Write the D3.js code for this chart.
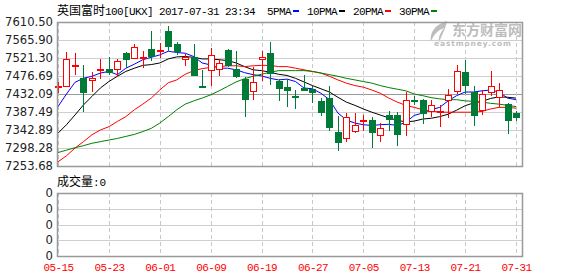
<!DOCTYPE html>
<html>
<head>
<meta charset="utf-8">
<script src="https://cdn.jsdelivr.net/npm/d3@7/dist/d3.min.js"></script>
<style>
body { margin: 0; background: #fff; }
svg { display: block; }
</style>
</head>
<body>
<div class="chartHolder"></div>
<script>
// FTSE 100 daily candles, 2017-05-15 .. 2017-07-31
var dates = ["05-15","05-16","05-17","05-18","05-19","05-22","05-23","05-24","05-25","05-26","05-30","05-31",
    "06-01","06-02","06-05","06-06","06-07","06-08","06-09","06-12","06-13","06-14","06-15","06-16","06-19",
    "06-20","06-21","06-22","06-23","06-26","06-27","06-28","06-29","06-30",
    "07-03","07-04","07-05","07-06","07-07","07-10","07-11","07-12","07-13","07-14","07-17","07-18","07-19",
    "07-20","07-21","07-24","07-25","07-26","07-27","07-28","07-31"];

var openPrice  = [7449,7452,7502,7471,7467,7492,7494,7494,7533,7521,7522,7543,7540,7588,7556,7520,7524,7452,7490,7496,
    7540,7494,7469,7441,7519,7534,7465,7449,7428,7447,7444,7414,7423,7339,7324,7341,7364,7368,7332,7379,
    7379,7357,7417,7417,7390,7388,7418,7438,7486,7437,7393,7437,7425,7407,7386];
var highPrice  = [7461,7537,7533,7504,7486,7518,7523,7520,7535,7556,7538,7587,7558,7600,7562,7531,7556,7492,7546,7519,
    7543,7538,7474,7498,7538,7561,7470,7470,7442,7480,7451,7422,7451,7378,7385,7385,7380,7374,7360,7389,
    7387,7437,7428,7419,7418,7405,7445,7505,7517,7451,7442,7490,7459,7409,7390];
var lowPrice   = [7434,7451,7480,7388,7437,7469,7478,7475,7496,7518,7496,7514,7521,7538,7528,7502,7476,7449,7451,7476,
    7500,7471,7375,7418,7465,7455,7415,7399,7395,7440,7409,7378,7341,7291,7312,7335,7340,7299,7314,7341,
    7302,7329,7404,7357,7374,7351,7372,7432,7432,7354,7379,7426,7401,7332,7364];
var closePrice = [7452,7519,7504,7437,7472,7494,7487,7515,7519,7548,7525,7525,7542,7550,7538,7525,7480,7450,7528,7510,
    7502,7476,7420,7463,7524,7484,7447,7441,7425,7443,7436,7387,7351,7314,7376,7356,7367,7339,7349,7370,
    7331,7416,7415,7385,7404,7389,7430,7488,7453,7379,7433,7451,7442,7368,7375];
var volume = [0,0,0,0,0,0,0,0,0,0,0,0,0,0,0,0,0,0,0,0,0,0,0,0,0,0,0,0,0,0,0,0,0,0,0,0,0,0,0,0,0,0,0,0,0,0,0,0,0,0,0,0,0,0,0];

// moving averages as drawn (they start before the visible window)
var ma5  = [7401,7432,7461,7471,7476,7484,7488,7480,7496,7506,7517,7523,7529,7538,7535,7533,7525,7509,7504,7496,
    7496,7492,7485,7480,7477,7471,7467,7469,7463,7447,7445,7434,7418,7385,7368,7360,7356,7354,7356,7357,
    7354,7362,7379,7385,7393,7399,7415,7428,7437,7437,7440,7442,7437,7422,7418];
var ma10 = [7335,7356,7380,7405,7426,7447,7463,7476,7488,7496,7503,7505,7509,7519,7524,7525,7523,7519,7519,7517,
    7515,7509,7500,7492,7490,7486,7481,7478,7471,7462,7453,7445,7437,7424,7412,7404,7395,7387,7380,7373,
    7367,7363,7365,7370,7372,7376,7382,7392,7403,7410,7414,7421,7425,7424,7422];
var ma20 = [7264,7279,7298,7314,7331,7343,7351,7364,7376,7393,7407,7422,7442,7460,7467,7481,7490,7495,7498,7500,
    7502,7502,7500,7502,7503,7503,7500,7500,7496,7492,7488,7484,7476,7467,7459,7453,7449,7442,7434,7422,
    7412,7404,7399,7393,7390,7387,7387,7387,7387,7387,7389,7395,7399,7399,7397];
var ma30 = [7287,7293,7299,7304,7310,7314,7318,7322,7327,7332,7339,7347,7360,7376,7393,7407,7415,7422,7430,7440,
    7451,7462,7470,7476,7481,7486,7490,7490,7490,7490,7488,7484,7480,7476,7471,7467,7463,7459,7453,7448,
    7444,7440,7432,7428,7423,7420,7418,7418,7415,7414,7412,7409,7407,7404,7401];

var yTicks = [7253.68,7298.28,7342.89,7387.49,7432.09,7476.69,7521.30,7565.90,7610.50];
var xLabels = ["05-15","05-23","06-01","06-09","06-19","06-27","07-05","07-13","07-21","07-31"];
var maNames = ["5PMA","10PMA","20PMA","30PMA"];
var maColors = ["#0000ff","#000000","#ff0000","#008000"];

function drawChart() {
    var w = 578, h = 276;
    var plotLeft = 57, plotRight = 522, plotTop = 22, plotBottom = 166;
    var volTop = 193, volBottom = 256;
    var upColor = "#ff0000", downColor = "#007a37";
    var monoFont = "'Liberation Mono', 'DejaVu Sans Mono', monospace";
    var cjkFont = "'Noto Sans CJK SC', sans-serif";

    var svg = d3.select('.chartHolder').append('svg')
        .attr("width", w)
        .attr("height", h)
        .style("background", "#fff");

    var x = d3.scalePoint()
        .domain(dates)
        .range([58, 516]);

    var y = d3.scaleLinear()
        .domain([yTicks[0], yTicks[yTicks.length-1]])
        .range([plotBottom, plotTop]);

    var yVol = d3.scaleLinear()
        .domain([0, 4])
        .range([volBottom, volTop]);

    function px(v) { return Math.round(v) + 0.5; }

    // watermark
    var wm = svg.append("g").attr("class", "watermark").attr("fill", "#bdbdbd");
    wm.append("path")
        .attr("d", "M447,21 C436,24 429,32 431,42 C433,35 438,30 444,28 C440,33 438,38 439,43 C442,34 446,28 447,21 Z");
    wm.append("text")
        .attr("x", 452).attr("y", 35)
        .attr("font-family", cjkFont)
        .attr("font-weight", "bold")
        .style("font-size", "14px")
        .text("东方财富网");
    wm.append("text")
        .attr("x", 434).attr("y", 46)
        .attr("font-family", "'DejaVu Sans', sans-serif")
        .attr("font-weight", "bold")
        .attr("letter-spacing", "0.9")
        .style("font-size", "7.5px")
        .text("eastmoney.com");

    // horizontal grid lines
    svg.selectAll(".hGrid")
        .data(yTicks)
        .enter().append("line")
        .attr("class", "hGrid")
        .attr("x1", plotLeft).attr("x2", plotRight)
        .attr("y1", function(d){ return px(y(d)); })
        .attr("y2", function(d){ return px(y(d)); })
        .attr("stroke", function(d, i){ return i == 4 ? "#999" : "#cfcfcf"; })
        .attr("stroke-width", 1);

    svg.selectAll(".vGrid")
        .data(xLabels)
        .enter().append("line")
        .attr("class", "vGrid")
        .attr("x1", function(d){ return px(x(d)); })
        .attr("x2", function(d){ return px(x(d)); })
        .attr("y1", plotTop).attr("y2", plotBottom)
        .attr("stroke", "#c8c8c8")
        .attr("stroke-dasharray", "4,3");

    // price axis labels
    svg.selectAll(".yLabel")
        .data(yTicks)
        .enter().append("text")
        .attr("class", "yLabel")
        .attr("x", 53)
        .attr("y", function(d){ return y(d) + 4; })
        .attr("text-anchor", "end")
        .attr("fill", "#222")
        .attr("font-family", "'DejaVu Sans', sans-serif")
        .style("font-size", "11.6px")
        .text(d3.format(".2f"));

    // moving averages
    var idx = d3.range(dates.length);
    var maSeries = [ma5, ma10, ma20, ma30];
    svg.selectAll(".maLine")
        .data(maSeries)
        .enter().append("path")
        .attr("class", "maLine")
        .attr("fill", "none")
        .attr("stroke", function(d, i){ return maColors[i]; })
        .attr("stroke-width", 1)
        .attr("d", function(series){
            return d3.line()
                .x(function(i){ return x(dates[i]); })
                .y(function(i){ return y(series[i]); })(idx);
        });

    // candles
    var candle = svg.selectAll(".candle")
        .data(idx)
        .enter().append("g")
        .attr("class", "candle")
        .attr("shape-rendering", "crispEdges");

    candle.append("line")
        .attr("x1", function(i){ return px(x(dates[i])); })
        .attr("x2", function(i){ return px(x(dates[i])); })
        .attr("y1", function(i){ return y(highPrice[i]); })
        .attr("y2", function(i){ return y(lowPrice[i]); })
        .attr("stroke", function(i){ return closePrice[i] >= openPrice[i] ? upColor : downColor; });

    candle.append("rect")
        .attr("x", function(i){ return px(x(dates[i])) - 3; })
        .attr("width", 6)
        .attr("y", function(i){ return Math.round(y(Math.max(openPrice[i], closePrice[i]))) + 0.5; })
        .attr("height", function(i){
            return Math.max(1, Math.round(Math.abs(y(openPrice[i]) - y(closePrice[i]))));
        })
        .attr("fill", function(i){ return closePrice[i] >= openPrice[i] ? "#fff" : downColor; })
        .attr("stroke", function(i){ return closePrice[i] >= openPrice[i] ? upColor : downColor; })
        .attr("stroke-width", 1.3);

    // frame
    svg.append("rect")
        .attr("x", plotLeft + 0.5).attr("y", plotTop + 0.5)
        .attr("width", plotRight - plotLeft).attr("height", plotBottom - plotTop)
        .attr("fill", "none")
        .attr("stroke", "#999")
        .attr("stroke-width", 1.5);

    // title + legend
    var title = svg.append("text")
        .attr("x", 57).attr("y", 15)
        .attr("fill", "#000");
    title.append("tspan")
        .attr("font-family", cjkFont)
        .style("font-size", "12px")
        .text("英国富时");
    title.append("tspan")
        .attr("font-family", monoFont)
        .style("font-size", "11px")
        .attr("letter-spacing", "-0.6")
        .text("100[UKX] 2017-07-31 23:34");

    var legendX = [267, 307, 353, 399];
    maNames.forEach(function(name, i){
        var t = svg.append("text")
            .attr("x", legendX[i]).attr("y", 15)
            .attr("fill", "#000")
            .attr("font-family", monoFont)
            .attr("letter-spacing", "-0.6")
            .style("font-size", "11px")
            .text(name);
        var tw = t.node().getComputedTextLength();
        svg.append("rect")
            .attr("x", legendX[i] + tw + 2).attr("y", 10)
            .attr("width", 6).attr("height", 2)
            .attr("fill", maColors[i]);
    });

    // volume panel
    var volText = svg.append("text")
        .attr("x", 57).attr("y", 186)
        .attr("fill", "#000");
    volText.append("tspan")
        .attr("font-family", cjkFont)
        .style("font-size", "12px")
        .text("成交量");
    volText.append("tspan")
        .attr("font-family", monoFont)
        .style("font-size", "11px")
        .text(":" + volume[volume.length-1]);

    var volTicks = [0, 1, 2, 3, 4];
    svg.selectAll(".volGrid")
        .data(volTicks)
        .enter().append("line")
        .attr("class", "volGrid")
        .attr("x1", plotLeft).attr("x2", plotRight)
        .attr("y1", function(d){ return px(yVol(d)); })
        .attr("y2", function(d){ return px(yVol(d)); })
        .attr("stroke", "#cfcfcf");

    svg.selectAll(".volVGrid")
        .data(xLabels)
        .enter().append("line")
        .attr("class", "volVGrid")
        .attr("x1", function(d){ return px(x(d)); })
        .attr("x2", function(d){ return px(x(d)); })
        .attr("y1", volTop).attr("y2", volBottom)
        .attr("stroke", "#c8c8c8")
        .attr("stroke-dasharray", "4,3");

    svg.selectAll(".volLabel")
        .data(volTicks)
        .enter().append("text")
        .attr("class", "volLabel")
        .attr("x", 53)
        .attr("y", function(d){ return yVol(d) + 4; })
        .attr("text-anchor", "end")
        .attr("fill", "#222")
        .attr("font-family", "'DejaVu Sans', sans-serif")
        .style("font-size", "11.6px")
        .text("0");

    svg.selectAll(".volBar")
        .data(idx)
        .enter().append("rect")
        .attr("class", "volBar")
        .attr("x", function(i){ return x(dates[i]) - 3; })
        .attr("width", 6)
        .attr("y", function(i){ return yVol(volume[i]); })
        .attr("height", function(i){ return volBottom - yVol(volume[i]); })
        .attr("fill", downColor);

    svg.append("rect")
        .attr("x", plotLeft + 0.5).attr("y", volTop + 0.5)
        .attr("width", plotRight - plotLeft).attr("height", volBottom - volTop)
        .attr("fill", "none")
        .attr("stroke", "#999")
        .attr("stroke-width", 1.5);

    // date axis
    var xAxis = d3.axisBottom(x).tickValues(xLabels).tickSize(0).tickPadding(7);
    var gx = svg.append("g")
        .attr("class", "axis axis--x")
        .attr("transform", "translate(0," + volBottom + ")")
        .call(xAxis);
    gx.select(".domain").remove();
    gx.selectAll("text")
        .attr("fill", "#ff0000")
        .attr("font-family", monoFont)
        .style("font-size", "11px")
        .attr("letter-spacing", "-0.6");
}

drawChart();
</script>
</body>
</html>
